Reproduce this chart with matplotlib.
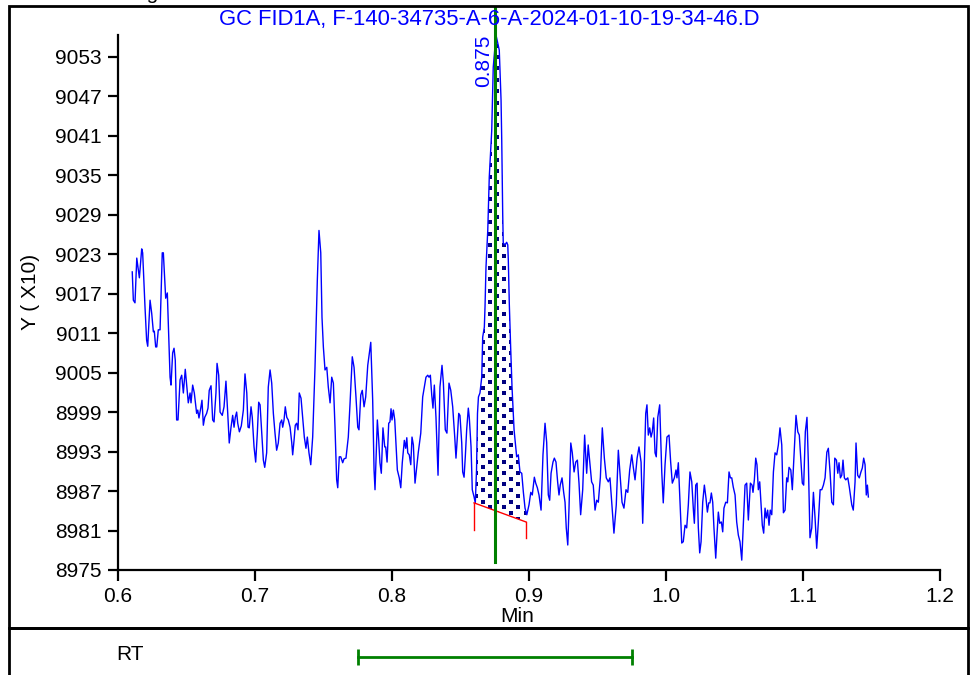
import numpy as np
import matplotlib
matplotlib.use("Agg")
import matplotlib.pyplot as plt
from matplotlib.patches import Rectangle

plt.rcParams['font.family'] = ['Liberation Sans', 'DejaVu Sans']

title = "GC FID1A, F-140-34735-A-6-A-2024-01-10-19-34-46.D"
peak_rt = 0.875
peak_label = "0.875"
rt_window = [0.775, 0.975]
base_t = [0.8599, 0.8978]
base_y = [8985.2, 8982.3]
base_drop = [8981.1, 8979.9]
y_ticks = [8975, 8981, 8987, 8993, 8999, 9005, 9011, 9017, 9023, 9029,
           9035, 9041, 9047, 9053]
x_ticks = [0.6, 0.7, 0.8, 0.9, 1.0, 1.1, 1.2]
x_labels = ["0.6", "0.7", "0.8", "0.9", "1.0", "1.1", "1.2"]

# signal trace (min, counts/10)
t = [0.6104, 0.6112, 0.6124, 0.6137, 0.6156, 0.6173, 0.6180, 0.6197, 0.6209, 0.6217,
     0.6234, 0.6246, 0.6258, 0.6265, 0.6275, 0.6283, 0.6294, 0.6307, 0.6323, 0.6331,
     0.6348, 0.6360, 0.6380, 0.6387, 0.6399, 0.6409, 0.6418, 0.6428, 0.6438, 0.6453,
     0.6465, 0.6477, 0.6491, 0.6506, 0.6513, 0.6526, 0.6533, 0.6545, 0.6557, 0.6574,
     0.6582, 0.6591, 0.6604, 0.6613, 0.6623, 0.6633, 0.6647, 0.6657, 0.6666, 0.6679,
     0.6691, 0.6701, 0.6715, 0.6723, 0.6735, 0.6745, 0.6761, 0.6774, 0.6788, 0.6801,
     0.6812, 0.6825, 0.6837, 0.6847, 0.6856, 0.6866, 0.6874, 0.6886, 0.6900, 0.6915,
     0.6927, 0.6940, 0.6949, 0.6958, 0.6971, 0.6980, 0.6993, 0.7005, 0.7017, 0.7027,
     0.7037, 0.7049, 0.7061, 0.7071, 0.7085, 0.7097, 0.7110, 0.7122, 0.7134, 0.7146,
     0.7158, 0.7170, 0.7183, 0.7195, 0.7202, 0.7212, 0.7221, 0.7232, 0.7243, 0.7256,
     0.7268, 0.7275, 0.7285, 0.7294, 0.7304, 0.7314, 0.7323, 0.7336, 0.7348, 0.7360,
     0.7372, 0.7382, 0.7394, 0.7407, 0.7421, 0.7438, 0.7455, 0.7467, 0.7480, 0.7489,
     0.7499, 0.7511, 0.7524, 0.7535, 0.7548, 0.7560, 0.7572, 0.7584, 0.7596, 0.7604,
     0.7615, 0.7626, 0.7640, 0.7650, 0.7664, 0.7681, 0.7694, 0.7710, 0.7723, 0.7737,
     0.7750, 0.7759, 0.7772, 0.7783, 0.7796, 0.7808, 0.7823, 0.7845, 0.7859, 0.7869,
     0.7876, 0.7893, 0.7903, 0.7912, 0.7922, 0.7934, 0.7947, 0.7954, 0.7964, 0.7976,
     0.7985, 0.7993, 0.8000, 0.8010, 0.8020, 0.8029, 0.8039, 0.8053, 0.8064, 0.8075,
     0.8090, 0.8100, 0.8108, 0.8115, 0.8126, 0.8137, 0.8146, 0.8156, 0.8168, 0.8180,
     0.8192, 0.8210, 0.8224, 0.8236, 0.8248, 0.8261, 0.8270, 0.8280, 0.8290, 0.8299,
     0.8309, 0.8321, 0.8336, 0.8350, 0.8365, 0.8375, 0.8389, 0.8401, 0.8416, 0.8429,
     0.8443, 0.8458, 0.8467, 0.8477, 0.8487, 0.8496, 0.8509, 0.8516, 0.8526, 0.8535,
     0.8545, 0.8557, 0.8564, 0.8577, 0.8586, 0.8599, 0.8608, 0.8617, 0.8624, 0.8631,
     0.8642, 0.8655, 0.8662, 0.8674, 0.8679, 0.8686, 0.8699, 0.8710, 0.8720, 0.8728,
     0.8739, 0.8759, 0.8783, 0.8796, 0.8801, 0.8804, 0.8808, 0.8812, 0.8825, 0.8837,
     0.8845, 0.8849, 0.8856, 0.8866, 0.8876, 0.8891, 0.8910, 0.8922, 0.8934, 0.8947,
     0.8959, 0.8971, 0.8984, 0.9000, 0.9013, 0.9024, 0.9039, 0.9049, 0.9061, 0.9073,
     0.9088, 0.9102, 0.9117, 0.9129, 0.9141, 0.9151, 0.9161, 0.9175, 0.9185, 0.9197,
     0.9209, 0.9219, 0.9228, 0.9241, 0.9253, 0.9263, 0.9272, 0.9283, 0.9292, 0.9305,
     0.9316, 0.9329, 0.9341, 0.9353, 0.9365, 0.9377, 0.9392, 0.9406, 0.9421, 0.9432,
     0.9445, 0.9457, 0.9469, 0.9482, 0.9494, 0.9506, 0.9521, 0.9535, 0.9550, 0.9564,
     0.9579, 0.9591, 0.9604, 0.9620, 0.9637, 0.9652, 0.9666, 0.9679, 0.9693, 0.9708,
     0.9721, 0.9735, 0.9750, 0.9762, 0.9774, 0.9789, 0.9803, 0.9818, 0.9830, 0.9842,
     0.9852, 0.9861, 0.9871, 0.9881, 0.9891, 0.9900, 0.9910, 0.9920, 0.9929, 0.9940,
     0.9954, 0.9969, 0.9980, 0.9993, 1.0007, 1.0022, 1.0034, 1.0046, 1.0061, 1.0073,
     1.0080, 1.0090, 1.0103, 1.0115, 1.0126, 1.0139, 1.0151, 1.0163, 1.0175, 1.0188,
     1.0200, 1.0207, 1.0217, 1.0227, 1.0236, 1.0246, 1.0256, 1.0268, 1.0280, 1.0292,
     1.0302, 1.0312, 1.0321, 1.0331, 1.0341, 1.0350, 1.0363, 1.0372, 1.0382, 1.0392,
     1.0404, 1.0414, 1.0423, 1.0436, 1.0448, 1.0460, 1.0470, 1.0480, 1.0491, 1.0504,
     1.0516, 1.0528, 1.0540, 1.0553, 1.0565, 1.0577, 1.0589, 1.0601, 1.0616, 1.0628,
     1.0635, 1.0645, 1.0655, 1.0664, 1.0674, 1.0684, 1.0694, 1.0703, 1.0713, 1.0723,
     1.0732, 1.0742, 1.0752, 1.0761, 1.0772, 1.0784, 1.0796, 1.0808, 1.0820, 1.0832,
     1.0845, 1.0857, 1.0869, 1.0881, 1.0889, 1.0898, 1.0911, 1.0922, 1.0937, 1.0949,
     1.0962, 1.0973, 1.0985, 1.0995, 1.1005, 1.1017, 1.1029, 1.1039, 1.1051, 1.1064,
     1.1076, 1.1088, 1.1100, 1.1112, 1.1125, 1.1137, 1.1149, 1.1161, 1.1174, 1.1185,
     1.1198, 1.1210, 1.1222, 1.1232, 1.1244, 1.1254, 1.1263, 1.1273, 1.1283, 1.1292,
     1.1302, 1.1312, 1.1327, 1.1338, 1.1356, 1.1367, 1.1380, 1.1387, 1.1399, 1.1411,
     1.1423, 1.1433, 1.1443, 1.1453, 1.1462, 1.1470, 1.1477]

sig = [9020.3, 9016.0, 9015.6, 9022.4, 9019.4, 9023.8, 9023.2, 9015.0, 9009.9, 9009.0,
       9016.0, 9014.0, 9011.2, 9011.3, 9008.9, 9008.9, 9011.5, 9011.5, 9023.2, 9023.2,
       9016.3, 9017.1, 9004.3, 9003.1, 9008.0, 9008.7, 9006.9, 8997.8, 8997.8, 9003.9,
       9004.6, 9001.9, 9005.5, 9001.9, 9000.4, 9001.9, 9000.4, 9003.1, 9001.9, 8998.8,
       8999.3, 8998.1, 8999.6, 9000.8, 8997.0, 8998.2, 8998.8, 8999.6, 9002.3, 9003.0,
       8997.8, 8997.5, 9001.9, 9006.4, 9004.6, 8999.0, 8998.5, 8999.8, 9003.7, 8998.8,
       8994.3, 8996.7, 8998.5, 8996.7, 8998.2, 8999.0, 8997.3, 8996.0, 8996.9, 8999.3,
       9004.8, 9001.9, 8996.7, 8996.6, 8999.8, 8998.2, 8993.7, 8991.4, 8995.8, 9000.5,
       9000.1, 8995.8, 8991.7, 8990.6, 8992.8, 9002.8, 9005.4, 9003.4, 8998.8, 8995.8,
       8993.2, 8994.3, 8997.3, 8997.8, 8996.7, 8997.8, 8999.8, 8998.2, 8997.8, 8996.7,
       8994.4, 8992.5, 8994.7, 8997.0, 8997.3, 8996.3, 9001.9, 9001.1, 8998.2, 8995.2,
       8993.5, 8995.2, 8992.8, 8991.0, 8995.2, 9005.8, 9019.1, 9026.6, 9023.2, 9013.4,
       9008.9, 9005.4, 9005.8, 9002.8, 9000.4, 9004.3, 9003.4, 8996.7, 8988.7, 8987.5,
       8992.2, 8992.2, 8991.3, 8991.9, 8992.0, 8995.2, 9000.4, 9007.4, 9005.8, 9001.3,
       8996.7, 8996.3, 9001.6, 9002.3, 8999.8, 9001.3, 9006.1, 9009.6, 9000.8, 8990.2,
       8987.2, 8997.8, 8994.7, 8991.3, 8989.7, 8996.6, 8993.7, 8993.7, 8991.4, 8997.3,
       8997.5, 8999.5, 8997.8, 8999.3, 8997.8, 8994.3, 8990.2, 8989.0, 8987.5, 8991.3,
       8994.7, 8993.5, 8995.1, 8992.8, 8992.5, 8991.0, 8995.2, 8994.0, 8988.2, 8990.6,
       8992.9, 8995.8, 9001.3, 9002.8, 9004.3, 9004.6, 9004.3, 9004.6, 9001.6, 8999.6,
       9003.1, 8998.2, 8989.4, 9002.8, 9006.1, 9003.4, 8996.3, 8995.8, 9003.4, 9002.3,
       8999.8, 8995.2, 8992.0, 8995.2, 8998.8, 8998.5, 8994.3, 8989.9, 8989.1, 8992.2,
       8996.3, 8999.6, 8998.2, 8993.7, 8987.2, 8986.1, 8985.2, 8990.2, 8998.8, 9001.3,
       9001.9, 9004.3, 9010.4, 9011.9, 9015.0, 9021.0, 9026.6, 9034.7, 9038.8, 9041.8,
       9051.4, 9056.3, 9054.0, 9046.4, 9040.3, 9035.0, 9029.2, 9024.7, 9024.4, 9024.8,
       9024.4, 9022.1, 9015.6, 9008.9, 9002.8, 8996.3, 8992.2, 8992.5, 8989.9, 8989.7,
       8986.8, 8984.4, 8983.4, 8984.9, 8986.8, 8986.4, 8989.1, 8988.2, 8987.5, 8986.4,
       8984.1, 8992.5, 8997.3, 8994.4, 8986.4, 8985.6, 8989.7, 8991.4, 8992.0, 8991.4,
       8988.4, 8986.4, 8987.9, 8989.0, 8986.8, 8985.3, 8981.4, 8978.8, 8984.4, 8994.3,
       8992.8, 8989.9, 8991.4, 8991.7, 8988.2, 8983.4, 8987.2, 8995.5, 8989.7, 8994.0,
       8991.0, 8988.4, 8987.9, 8984.1, 8985.6, 8985.3, 8989.1, 8996.6, 8992.0, 8989.0,
       8988.4, 8989.0, 8985.3, 8980.6, 8984.9, 8993.2, 8989.1, 8985.3, 8984.4, 8987.2,
       8986.8, 8990.2, 8992.5, 8990.5, 8988.7, 8992.0, 8993.7, 8991.4, 8982.1, 8991.4,
       8998.8, 9000.1, 8995.5, 8996.6, 8995.2, 8996.0, 8998.1, 8992.8, 8992.2, 8998.2,
       9000.1, 8989.9, 8985.2, 8991.0, 8995.2, 8995.5, 8991.4, 8988.2, 8989.0, 8990.2,
       8989.0, 8991.3, 8984.9, 8979.1, 8979.3, 8981.8, 8981.4, 8984.9, 8989.9, 8988.4,
       8984.1, 8982.1, 8987.9, 8988.2, 8981.4, 8977.6, 8979.3, 8985.3, 8987.9, 8985.9,
       8983.8, 8985.2, 8985.2, 8986.7, 8985.3, 8981.4, 8976.8, 8980.3, 8983.8, 8982.1,
       8982.3, 8980.8, 8984.4, 8985.3, 8985.2, 8989.9, 8989.0, 8989.0, 8987.6, 8986.4,
       8982.3, 8980.3, 8979.3, 8976.5, 8982.3, 8987.9, 8988.2, 8982.6, 8988.2, 8987.9,
       8986.8, 8988.7, 8992.0, 8991.0, 8987.2, 8988.4, 8984.9, 8981.8, 8980.6, 8984.4,
       8982.9, 8984.1, 8981.8, 8984.1, 8983.4, 8989.9, 8992.8, 8992.5, 8994.0, 8996.6,
       8994.0, 8983.7, 8984.1, 8989.0, 8988.4, 8990.6, 8990.2, 8987.2, 8993.5, 8998.5,
       8996.0, 8995.5, 8991.4, 8988.2, 8987.9, 8996.0, 8998.2, 8991.4, 8979.9, 8981.4,
       8986.8, 8982.9, 8978.3, 8982.3, 8987.2, 8987.2, 8987.9, 8989.0, 8992.9, 8993.5,
       8989.7, 8985.3, 8984.9, 8992.0, 8991.7, 8989.7, 8991.3, 8989.0, 8989.4, 8991.7,
       8989.0, 8988.7, 8989.0, 8987.6, 8984.9, 8984.1, 8988.4, 8994.3, 8989.4, 8989.0,
       8989.9, 8990.5, 8992.0, 8991.0, 8986.4, 8987.9, 8986.1]

W, H = 971, 675
fig = plt.figure(figsize=(W / 100, H / 100), dpi=100)

# outer frames (main panel + RT strip)
fig.add_artist(Rectangle((9 / W, (H - 628) / H), 959 / W, 622 / H,
                         transform=fig.transFigure, fill=False,
                         edgecolor='black', linewidth=2))
fig.add_artist(Rectangle((9 / W, -10 / H), 959 / W, (H - 628 + 10) / H,
                         transform=fig.transFigure, fill=False,
                         edgecolor='black', linewidth=2))

ax = fig.add_axes([118 / W, 105 / H, 822 / W, 535 / H])
ax.set_xlim(0.6, 1.2)
ax.set_ylim(8975, 9056.3)

ts = np.array(t)
ss = np.array(sig)

# integrated area between the baseline and the trace
inside = (ts > base_t[0]) & (ts < base_t[1])
ft = np.concatenate([[base_t[0]], ts[inside], [base_t[1]]])
fs = np.interp(ft, ts, ss)
fb = np.interp(ft, base_t, base_y)
area = ax.fill_between(ft, fb, fs, facecolor='none', edgecolor='none',
                       linewidth=0, zorder=1)

# dotted fill texture: staggered grid of small squares, clipped to the area
px0, py0 = ax.transData.transform((base_t[0], 8975))
px1, py1 = ax.transData.transform((base_t[1], 9060))
dots = []
for k, yy in enumerate(np.arange(py0, py1, 5.7)):
    off = 7.15 if k % 2 else 0.0
    for xx in np.arange(px0 - 20 + off, px1 + 15, 14.3):
        dots.append((xx, yy))
dots = ax.transData.inverted().transform(np.array(dots))
sc = ax.scatter(dots[:, 0], dots[:, 1], marker='s', s=5, color='#000080',
                linewidths=0, zorder=1)
sc.set_clip_path(area.get_paths()[0], transform=ax.transData)

ax.plot(ts, ss, color='#0000ff', linewidth=1.0, zorder=2)

ax.plot(base_t, base_y, color='red', linewidth=1.0, zorder=3)
for bt, by, bd in zip(base_t, base_y, base_drop):
    ax.plot([bt, bt], [by, bd], color='red', linewidth=1.0, zorder=3)

ax.plot([peak_rt, peak_rt], [8976.2, 9060.4], color='#008000',
        linewidth=2.2, zorder=4, clip_on=False)
ax.text(0.8672, 9052.4, peak_label, rotation=90, color='#0000ff',
        fontsize=15, ha='center', va='center', clip_on=False)

for s in ['top', 'right']:
    ax.spines[s].set_visible(False)
for s in ['left', 'bottom']:
    ax.spines[s].set_linewidth(1.6)
ax.set_xticks(x_ticks)
ax.set_xticklabels(x_labels)
ax.set_yticks(y_ticks)
ax.tick_params(axis='x', direction='out', length=8, width=1.6,
               labelsize=15, pad=4)
ax.tick_params(axis='y', direction='out', length=7, width=1.6,
               labelsize=15, pad=5)

fig.text(489 / W, 1 - 20 / H, title, color='#0000ff', fontsize=15.8,
         ha='center', va='center')
fig.text(517 / W, 1 - 617 / H, "Min", fontsize=15, ha='center', va='center')
fig.text(30 / W, 1 - 292 / H, "Y ( X10)", fontsize=15, rotation=90,
         ha='center', va='center')
fig.text(128 / W, 1 + 1 / H, "Signal", fontsize=15, ha='left',
         va='baseline')

# RT window strip
ax2 = fig.add_axes([118 / W, 0, 822 / W, 47 / H])
ax2.set_xlim(0.6, 1.2)
ax2.set_ylim(0, 1)
ax2.axis('off')
ax2.plot(rt_window, [0.383, 0.383], color='#008000', linewidth=2,
         marker='|', markersize=12, markeredgewidth=2)
ax2.text(0.6088, 0.43, "RT", fontsize=15, ha='center', va='center')

fig.savefig("out.png", dpi=100)
